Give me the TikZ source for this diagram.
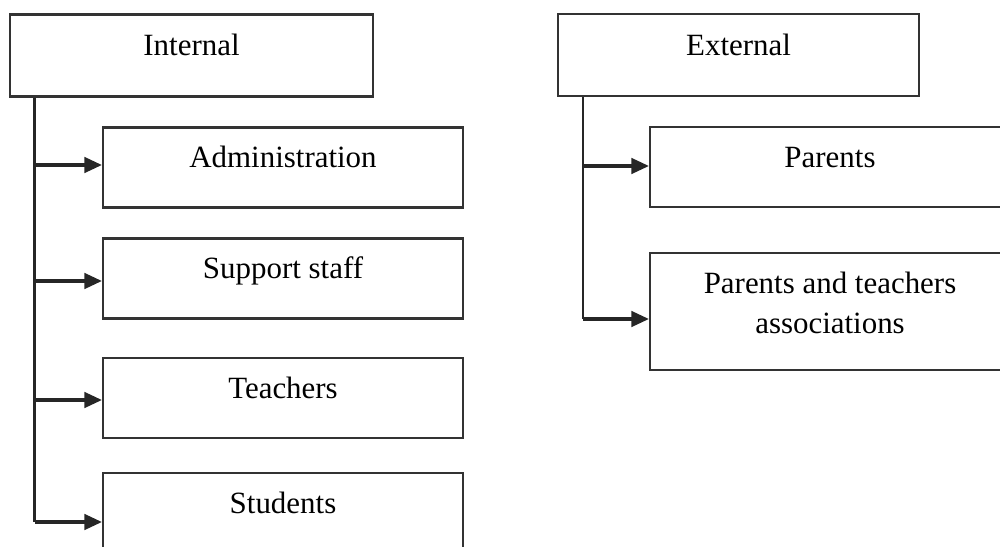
\documentclass[tikz,border=0pt]{standalone}
\usepackage{fontspec}
\setmainfont{Liberation Serif}
\usetikzlibrary{arrows.meta}
\tikzset{
  caja/.style={draw=black!80, line width=0.6pt, minimum width=3.6cm, minimum height=0.8cm,
    inner sep=0pt, align=center, text height=6.2pt, text depth=0.21cm,
    font=\fontsize{8.8}{11.6}\selectfont},
  tronco/.style={draw=black!85, line width=0.7pt},
  flecha/.style={draw=black!85, line width=0.9pt, -{Triangle[length=5pt,width=4.4pt]}}
}
\begin{document}
\begin{tikzpicture}
  \useasboundingbox (0,0) rectangle (10,-5.46);
  \clip (0,0) rectangle (10,-5.46);

  % Cajas internas
  \node[caja, minimum width=3.63cm, minimum height=0.82cm] (internal) at (1.915,-0.555) {Internal};
  \node[caja] (admin) at (2.83,-1.675) {Administration};
  \node[caja] (support) at (2.83,-2.785) {Support staff};
  \node[caja] (teachers) at (2.83,-3.98) {Teachers};
  \node[caja] (students) at (2.83,-5.13) {Students};

  % Cajas externas
  \node[caja, minimum width=3.61cm, minimum height=0.82cm] (external) at (7.385,-0.55) {External};
  \node[caja] (parents) at (8.30,-1.67) {Parents};
  \node[caja, minimum height=1.17cm, text height=17.8pt, text depth=5.1pt] (pta) at (8.30,-3.115) {Parents and teachers\\associations};

  % Puntos de la linea interna
  \coordinate (ta) at (0.345,-1.65);
  \coordinate (tb) at (0.345,-2.81);
  \coordinate (tc) at (0.345,-4.00);
  \coordinate (td) at (0.345,-5.22);
  \draw[tronco] (internal.south -| ta) -- (td);
  \draw[flecha] (ta) -- (ta -| admin.west);
  \draw[flecha] (tb) -- (tb -| support.west);
  \draw[flecha] (tc) -- (tc -| teachers.west);
  \draw[flecha] (td) -- (td -| students.west);

  % Puntos de la linea externa
  \coordinate (ea) at (5.83,-1.66);
  \coordinate (eb) at (5.83,-3.19);
  \draw[tronco] (external.south -| ea) -- (eb);
  \draw[flecha] (ea) -- (ea -| parents.west);
  \draw[flecha] (eb) -- (eb -| pta.west);
\end{tikzpicture}
\end{document}
